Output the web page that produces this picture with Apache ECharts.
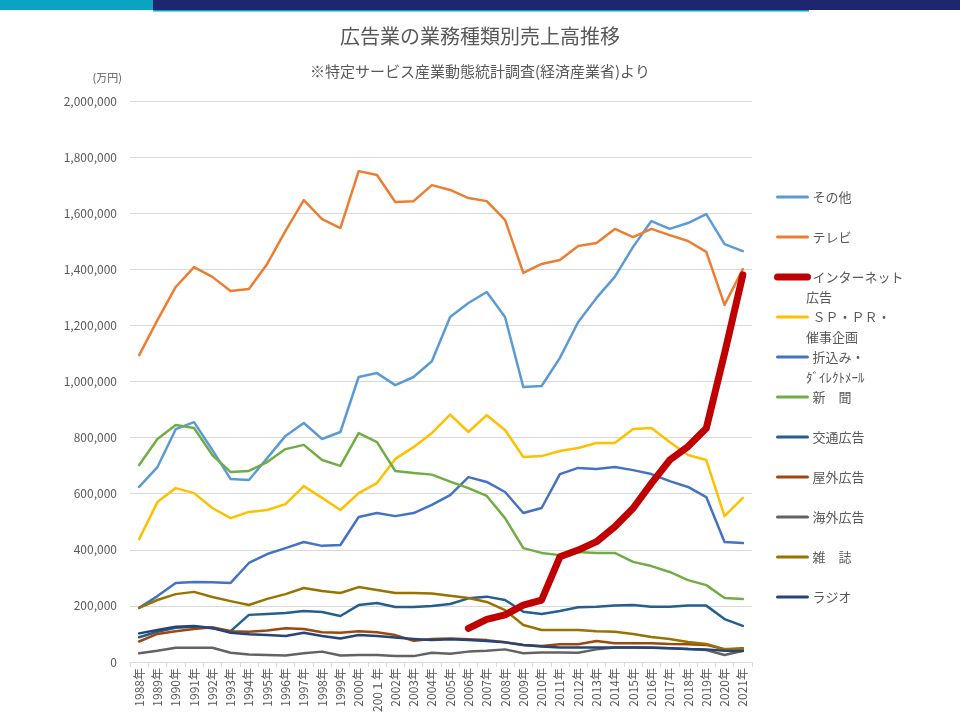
<!DOCTYPE html>
<html>
<head>
<meta charset="utf-8">
<script src="https://cdn.jsdelivr.net/npm/echarts@6/dist/echarts.min.js"></script>
<style>
  html, body { margin: 0; padding: 0; background: #fff; }
  #chart { width: 960px; height: 720px; }
</style>
</head>
<body>
<div id="chart"></div>
<script>
// 年
var years = ['1988年', '1989年', '1990年', '1991年', '1992年', '1993年', '1994年', '1995年', '1996年', '1997年',
  '1998年', '1999年', '2000年', '200１年', '2002年', '2003年', '2004年', '2005年', '2006年', '2007年',
  '2008年', '2009年', '2010年', '2011年', '2012年', '2013年', '2014年', '2015年', '2016年', '2017年',
  '2018年', '2019年', '2020年', '2021年'];

// 売上高(万円)
var sonota = [624000, 695000, 830000, 855000, 756000, 652000, 649000, 727000, 806000, 852000,
  795000, 820000, 1016000, 1030000, 987000, 1016000, 1072000, 1230000, 1280000, 1319000,
  1230000, 980000, 984000, 1084000, 1212000, 1298000, 1373000, 1480000, 1572000, 1544000,
  1565000, 1597000, 1490000, 1465000];
var tv = [1094000, 1219000, 1337000, 1408000, 1373000, 1323000, 1330000, 1419000, 1537000, 1647000,
  1579000, 1547000, 1750000, 1736000, 1640000, 1643000, 1700000, 1683000, 1654000, 1643000,
  1576000, 1387000, 1419000, 1433000, 1483000, 1494000, 1544000, 1515000, 1544000, 1522000,
  1501000, 1462000, 1273000, 1401000];
var internet = [null, null, null, null, null, null, null, null, null, null,
  null, null, null, null, null, null, null, null, 120000, 152000,
  168000, 203000, 221000, 375000, 399000, 429000, 482000, 548000, 637000, 720000,
  768000, 833000, 1100000, 1380000];
var sppr = [438000, 570000, 620000, 602000, 549000, 513000, 535000, 542000, 563000, 627000,
  585000, 542000, 602000, 638000, 724000, 766000, 816000, 882000, 820000, 880000,
  827000, 731000, 734000, 752000, 763000, 781000, 781000, 831000, 834000, 784000,
  738000, 720000, 520000, 585000];
var orikomi = [193000, 235000, 282000, 285000, 284000, 282000, 353000, 385000, 406000, 428000,
  414000, 417000, 517000, 531000, 520000, 531000, 560000, 595000, 659000, 642000,
  606000, 531000, 549000, 670000, 692000, 688000, 695000, 684000, 670000, 645000,
  624000, 588000, 428000, 424000];
var shinbun = [702000, 795000, 845000, 834000, 738000, 677000, 681000, 713000, 759000, 774000,
  720000, 699000, 816000, 784000, 681000, 674000, 668000, 643000, 620000, 592000,
  513000, 406000, 389000, 381000, 392000, 389000, 389000, 357000, 342000, 321000,
  292000, 274000, 228000, 225000];
var koutsu = [88000, 108000, 122000, 126000, 120000, 110000, 168000, 171000, 175000, 182000,
  178000, 164000, 203000, 210000, 196000, 196000, 200000, 207000, 227000, 233000,
  221000, 179000, 171000, 182000, 195000, 197000, 201000, 203000, 197000, 197000,
  201000, 201000, 153000, 129000];
var okugai = [73000, 100000, 110000, 118000, 124000, 110000, 108000, 112000, 120000, 118000,
  106000, 104000, 110000, 106000, 96000, 76000, 82000, 84000, 81000, 78000,
  70000, 61000, 57000, 63000, 63000, 75000, 67000, 67000, 67000, 64000,
  63000, 61000, 45000, 49000];
var kaigai = [31000, 40000, 51000, 51000, 51000, 33000, 27000, 25000, 23000, 31000,
  37000, 23000, 25000, 25000, 21000, 21000, 33000, 29000, 37000, 40000,
  45000, 31000, 34000, 34000, 33000, 45000, 52000, 52000, 52000, 49000,
  46000, 43000, 25000, 40000];
var zasshi = [193000, 221000, 242000, 250000, 232000, 217000, 203000, 225000, 242000, 264000,
  253000, 246000, 267000, 257000, 246000, 246000, 244000, 236000, 228000, 214000,
  185000, 132000, 114000, 114000, 114000, 110000, 108000, 100000, 89000, 82000,
  71000, 64000, 46000, 46000];
var radio = [102000, 114000, 126000, 128000, 121000, 104000, 99000, 96000, 93000, 104000,
  93000, 84000, 96000, 93000, 87000, 82000, 78000, 81000, 78000, 75000,
  70000, 61000, 55000, 52000, 52000, 52000, 52000, 52000, 51000, 49000,
  46000, 45000, 40000, 39000];

var names = ['その他', 'テレビ', 'インターネット', 'ＳＰ・ＰＲ・', '折込み・', '新　聞',
  '交通広告', '屋外広告', '海外広告', '雑　誌', 'ラジオ'];
var colors = ['#5B9BD5', '#ED7D31', '#C00000', '#FFC000', '#4472C4', '#70AD47',
  '#255E91', '#9E480E', '#636363', '#997300', '#264478'];
var values = [sonota, tv, internet, sppr, orikomi, shinbun, koutsu, okugai, kaigai, zasshi, radio];

var font = '"Noto Sans CJK JP", "Noto Sans", sans-serif';
var gray = '#595959';

var myChart = echarts.init(document.getElementById('chart'));

var seriesList = [];
var legendData = [];
for (var i = 0; i < names.length; i++) {
  var w = i === 2 ? 7 : 2.5;
  seriesList.push({
    name: names[i],
    type: 'line',
    data: values[i],
    symbol: 'none',
    connectNulls: false,
    z: i === 2 ? 5 : 2,
    itemStyle: { color: colors[i] },
    lineStyle: { color: colors[i], width: w, cap: 'round', join: 'round' }
  });
  legendData.push({ name: names[i], lineStyle: { width: i === 2 ? 7 : 3, cap: 'round' } });
}

// 凡例の2行目
var legendTop = 182;
var legendLeft = 769;
var secondLines = [
  { idx: 2, text: '広告' },
  { idx: 3, text: '催事企画' },
  { idx: 4, text: 'ﾀﾞｲﾚｸﾄﾒｰﾙ' }
];
var graphics = [
  { type: 'rect', left: 0, top: 0, shape: { width: 153, height: 10 }, style: { fill: '#0AA3C2' } },
  { type: 'rect', left: 153, top: 0, shape: { width: 807, height: 10 }, style: { fill: '#1F2670' } },
  { type: 'rect', left: 153, top: 10, shape: { width: 656, height: 1.5 }, style: { fill: '#0AA3C2' } }
];
secondLines.forEach(function(s) {
  graphics.push({
    type: 'text',
    left: 806,
    top: legendTop + 40 * s.idx + 29,
    style: { text: s.text, fill: gray, font: '13px ' + font }
  });
});

var options = {
  backgroundColor: '#fff',
  animation: false,
  title: [{
    text: '広告業の業務種類別売上高推移',
    left: 'center',
    top: 21,
    textStyle: { fontFamily: font, fontSize: 20, fontWeight: 'normal', color: gray }
  }, {
    text: '※特定サービス産業動態統計調査(経済産業省)より',
    left: 'center',
    top: 59,
    textStyle: { fontFamily: font, fontSize: 15, fontWeight: 'normal', color: gray }
  }],
  legend: {
    orient: 'vertical',
    left: legendLeft,
    top: legendTop,
    itemWidth: 30,
    itemHeight: 20,
    itemGap: 20,
    selectedMode: false,
    itemStyle: { opacity: 0 },
    data: legendData,
    textStyle: { fontFamily: font, fontSize: 13, color: gray, lineHeight: 20 }
  },
  grid: {
    left: 130,
    right: 208,
    top: 101,
    bottom: 58
  },
  xAxis: [{
    type: 'category',
    data: years,
    boundaryGap: true,
    axisLine: { lineStyle: { color: '#D9D9D9' } },
    axisTick: { show: true, length: 5, lineStyle: { color: '#D9D9D9' } },
    axisLabel: { rotate: 90, interval: 0, margin: 6, fontFamily: font, fontSize: 12, color: gray }
  }],
  yAxis: [{
    type: 'value',
    min: 0,
    max: 2000000,
    interval: 200000,
    name: '(万円)',
    nameLocation: 'end',
    nameGap: 18,
    nameTextStyle: { fontFamily: font, fontSize: 11, color: gray, align: 'right', padding: [0, 8, 0, 0] },
    axisLine: { show: false },
    axisTick: { show: false },
    splitLine: { lineStyle: { color: '#D9D9D9' } },
    axisLabel: {
      margin: 13,
      fontFamily: font,
      fontSize: 12,
      color: gray,
      formatter: function(v) { return v.toLocaleString('en-US'); }
    }
  }],
  graphic: graphics,
  series: seriesList
};

myChart.setOption(options, true);
</script>
</body>
</html>
